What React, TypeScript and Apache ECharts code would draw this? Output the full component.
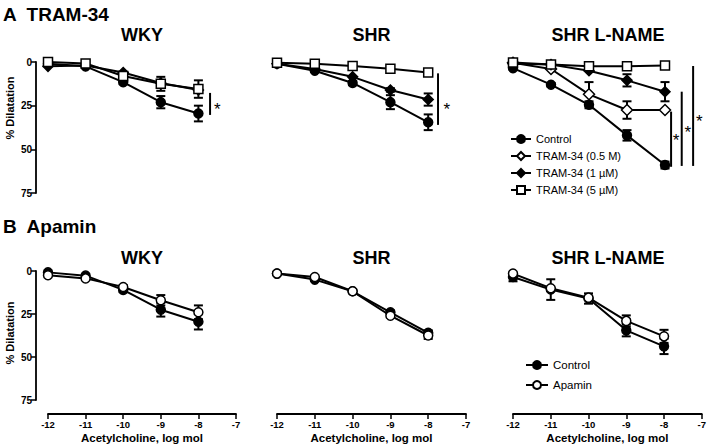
import React, { useEffect, useRef } from "react";
import * as echarts from "echarts";

const FONT = "'Liberation Sans', Arial, Helvetica, sans-serif";

// x values (log mol acetylcholine)
const doses = [-12, -11, -10, -9, -8];
const xTicks = [-12, -11, -10, -9, -8, -7];
const yTicks = [0, 25, 50, 75];

// ---- Panel A: TRAM-34 ----
// WKY
const aWkyControl = [1, 2.5, 11.5, 23, 29.5];
const aWkyControlErr = [0, 0, 1, 3.5, 4.5];
const aWkyTram1 = [2.5, 2, 6, 12, 16];
const aWkyTram1Err = [0, 0, 0, 0, 0];
const aWkyTram5 = [0, 0.8, 8, 12.5, 15.5];
const aWkyTram5Err = [0, 0, 1, 4, 5];
// SHR
const aShrControl = [1, 5, 12, 23, 34.5];
const aShrControlErr = [0, 0, 1, 4, 4.5];
const aShrTram1 = [1, 4, 8.5, 16, 21.5];
const aShrTram1Err = [0, 0, 0, 1, 3.5];
const aShrTram5 = [0.4, 1, 2.3, 3.8, 6];
const aShrTram5Err = [0, 0, 0, 0, 0.5];
// SHR L-NAME
const aLnControl = [3.5, 13, 24.5, 42, 59];
const aLnControlErr = [1, 1, 2, 3, 2];
const aLnTram05 = [0.5, 4, 18.5, 27.5, 27.5];
const aLnTram05Err = [0, 0, 7, 5, 0];
const aLnTram1 = [1, 1.5, 5, 10.5, 17];
const aLnTram1Err = [0, 0, 0, 3.5, 5.5];
const aLnTram5 = [0.3, 1.5, 2.5, 2.5, 2];
const aLnTram5Err = [0, 0, 0, 0, 0];

// ---- Panel B: Apamin ----
const bWkyControl = [0.8, 2.7, 11, 22.5, 29.5];
const bWkyControlErr = [0, 0, 1, 4, 4.5];
const bWkyApamin = [2.5, 4.3, 9.3, 17, 24];
const bWkyApaminErr = [0, 0, 1, 3, 4];
const bShrControl = [1.5, 5, 11.8, 24, 36];
const bShrControlErr = [0, 0, 0, 1, 1.5];
const bShrApamin = [1.5, 3.5, 11.8, 26, 37.5];
const bShrApaminErr = [0, 0, 0, 1, 2];
const bLnControl = [3.5, 10.8, 16, 34.5, 43.8];
const bLnControlErr = [2.5, 6, 3, 3.5, 4.5];
const bLnApamin = [1.5, 10, 15.5, 29, 38];
const bLnApaminErr = [0, 0, 0, 3.2, 3.8];

// significance bars: [x, yFrom, yTo] per grid, and asterisks [x, y]
const sigBarsWky = [[-7.69, 17.7, 30.3]];
const sigStarsWky = [[-7.5, 25]];
const sigBarsShr = [[-7.74, 6.5, 36]];
const sigStarsShr = [[-7.51, 25]];
const sigBarsLn = [
  [-7.84, 28.4, 60],
  [-7.56, 17, 59.5],
  [-7.26, 2.3, 59.5],
];
const sigStarsLn = [
  [-7.71, 42.8],
  [-7.4, 37.8],
  [-7.1, 32],
];

const legendA = ["Control", "TRAM-34 (0.5 M)", "TRAM-34 (1 µM)", "TRAM-34 (5 µM)"];
const legendB = ["Control", "Apamin"];

const panelTitles = ["WKY", "SHR", "SHR L-NAME"];

type Sty = { symbol: string; size: number; fill: string };
const STY: Record<string, Sty> = {
  "Control": { symbol: "circle", size: 9, fill: "#000" },
  "TRAM-34 (0.5 M)": { symbol: "diamond", size: 11, fill: "#fff" },
  "TRAM-34 (1 µM)": { symbol: "diamond", size: 10, fill: "#000" },
  "TRAM-34 (5 µM)": { symbol: "rect", size: 9, fill: "#fff" },
  "Apamin": { symbol: "circle", size: 9, fill: "#fff" },
};

function errRender(params: any, api: any) {
  const x = api.value(0);
  const y = api.value(1);
  const e = api.value(2);
  const a = api.coord([x, y - e]);
  const b = api.coord([x, y + e]);
  const w = 4.5;
  const st = { stroke: "#000", lineWidth: 2 };
  return {
    type: "group",
    children: [
      { type: "line", shape: { x1: a[0], y1: a[1], x2: b[0], y2: b[1] }, style: st },
      { type: "line", shape: { x1: a[0] - w, y1: a[1], x2: a[0] + w, y2: a[1] }, style: st },
      { type: "line", shape: { x1: b[0] - w, y1: b[1], x2: b[0] + w, y2: b[1] }, style: st },
    ],
  };
}

function makeSeries(name: string, vals: number[], errs: number[], g: number) {
  const s = STY[name];
  const line = {
    type: "line",
    name,
    xAxisIndex: g,
    yAxisIndex: g,
    data: doses.map((d, i) => [d, vals[i]]),
    symbol: s.symbol,
    symbolSize: s.size,
    showSymbol: true,
    z: 4,
    lineStyle: { color: "#000", width: 2 },
    itemStyle: { color: s.fill, borderColor: "#000", borderWidth: 1.5 },
    emphasis: { disabled: true },
  };
  const errData = doses
    .map((d, i) => [d, vals[i], errs[i]])
    .filter((r) => r[2] > 0);
  const err = {
    type: "custom",
    xAxisIndex: g,
    yAxisIndex: g,
    z: 3,
    silent: true,
    data: errData,
    encode: { x: 0, y: 1 },
    renderItem: errRender,
  };
  return [err, line];
}

function sigSeries(bars: number[][], stars: number[][], g: number) {
  return [
    {
      type: "custom",
      xAxisIndex: g,
      yAxisIndex: g,
      silent: true,
      z: 3,
      data: bars,
      encode: { x: 0, y: 1 },
      renderItem: (params: any, api: any) => {
        const a = api.coord([api.value(0), api.value(1)]);
        const b = api.coord([api.value(0), api.value(2)]);
        return {
          type: "line",
          shape: { x1: a[0], y1: a[1], x2: b[0], y2: b[1] },
          style: { stroke: "#000", lineWidth: 2 },
        };
      },
    },
    {
      type: "custom",
      xAxisIndex: g,
      yAxisIndex: g,
      silent: true,
      z: 3,
      data: stars,
      encode: { x: 0, y: 1 },
      renderItem: (params: any, api: any) => {
        const p = api.coord([api.value(0), api.value(1)]);
        return {
          type: "text",
          x: p[0],
          y: p[1] + 4,
          style: {
            text: "*",
            fontSize: 17,
            fontFamily: FONT,
            fill: "#000",
            align: "center",
            verticalAlign: "middle",
          },
        };
      },
    },
  ];
}

const gridLefts = [48, 277, 513];
const gridWidths = [188, 189, 190];

export default function App() {
  const ref = useRef<HTMLDivElement>(null);
  useEffect(() => {
    if (!ref.current) return;
    const chart = echarts.init(ref.current, undefined, { renderer: "svg" });

    const grids: any[] = [];
    const xAxes: any[] = [];
    const yAxes: any[] = [];
    for (let row = 0; row < 2; row++) {
      for (let c = 0; c < 3; c++) {
        const g = row * 3 + c;
        grids.push({
          left: gridLefts[c],
          width: gridWidths[c],
          top: row === 0 ? 62 : 271,
          height: row === 0 ? 131 : 129,
        });
        xAxes.push({
          type: "value",
          gridIndex: g,
          min: xTicks[0],
          max: xTicks[xTicks.length - 1],
          interval: 1,
          show: row === 1,
          offset: 14,
          position: "bottom",
          name: row === 1 ? "Acetylcholine, log mol" : "",
          nameLocation: "middle",
          nameGap: 18,
          nameTextStyle: { fontSize: 11.5, fontWeight: "bold", fontFamily: FONT, color: "#000" },
          axisLine: { show: true, onZero: false, lineStyle: { color: "#000", width: 1.8 } },
          axisTick: { show: true, length: 5, lineStyle: { color: "#000", width: 1.5 } },
          axisLabel: {
            fontSize: 9.5,
            fontWeight: "bold",
            fontFamily: FONT,
            color: "#000",
            margin: 5,
          },
          splitLine: { show: false },
        });
        yAxes.push({
          type: "value",
          gridIndex: g,
          min: yTicks[0],
          max: yTicks[yTicks.length - 1],
          interval: 25,
          inverse: true,
          show: c === 0,
          offset: 12,
          position: "left",
          axisLine: { show: true, onZero: false, lineStyle: { color: "#000", width: 1.8 } },
          axisTick: { show: true, length: 5, lineStyle: { color: "#000", width: 1.5 } },
          axisLabel: {
            fontSize: 10,
            fontWeight: "bold",
            fontFamily: FONT,
            color: "#000",
            margin: 4,
          },
          splitLine: { show: false },
        });
      }
    }

    const series: any[] = [
      ...makeSeries("Control", aWkyControl, aWkyControlErr, 0),
      ...makeSeries("TRAM-34 (1 µM)", aWkyTram1, aWkyTram1Err, 0),
      ...makeSeries("TRAM-34 (5 µM)", aWkyTram5, aWkyTram5Err, 0),
      ...sigSeries(sigBarsWky, sigStarsWky, 0),

      ...makeSeries("Control", aShrControl, aShrControlErr, 1),
      ...makeSeries("TRAM-34 (1 µM)", aShrTram1, aShrTram1Err, 1),
      ...makeSeries("TRAM-34 (5 µM)", aShrTram5, aShrTram5Err, 1),
      ...sigSeries(sigBarsShr, sigStarsShr, 1),

      ...makeSeries("Control", aLnControl, aLnControlErr, 2),
      ...makeSeries("TRAM-34 (0.5 M)", aLnTram05, aLnTram05Err, 2),
      ...makeSeries("TRAM-34 (1 µM)", aLnTram1, aLnTram1Err, 2),
      ...makeSeries("TRAM-34 (5 µM)", aLnTram5, aLnTram5Err, 2),
      ...sigSeries(sigBarsLn, sigStarsLn, 2),

      ...makeSeries("Control", bWkyControl, bWkyControlErr, 3),
      ...makeSeries("Apamin", bWkyApamin, bWkyApaminErr, 3),
      ...makeSeries("Control", bShrControl, bShrControlErr, 4),
      ...makeSeries("Apamin", bShrApamin, bShrApaminErr, 4),
      ...makeSeries("Control", bLnControl, bLnControlErr, 5),
      ...makeSeries("Apamin", bLnApamin, bLnApaminErr, 5),
    ];

    const titleText = (text: string, x: number, y: number, size: number, align = "center") => ({
      type: "text",
      x,
      y,
      style: {
        text,
        fontSize: size,
        fontWeight: "bold",
        fontFamily: FONT,
        fill: "#000",
        align,
        verticalAlign: "middle",
      },
    });

    const graphics: any[] = [
      titleText("A  TRAM-34", 3, 14, 19, "left"),
      titleText("B  Apamin", 3, 226, 19, "left"),
    ];
    panelTitles.forEach((t, c) => {
      const cx = gridLefts[c] + gridWidths[c] / 2;
      graphics.push(titleText(t, cx, 35, 18));
      graphics.push(titleText(t, cx, 258, 18));
    });
    [108, 333].forEach((y) => {
      graphics.push({
        type: "text",
        x: 10,
        y,
        rotation: Math.PI / 2,
        style: {
          text: "% Dilatation",
          fontSize: 11,
          fontWeight: "bold",
          fontFamily: FONT,
          fill: "#000",
          align: "center",
          verticalAlign: "middle",
        },
      });
    });

    chart.setOption({
      animation: false,
      backgroundColor: "#fff",
      grid: grids,
      xAxis: xAxes,
      yAxis: yAxes,
      legend: [
        {
          data: legendA,
          left: 505,
          top: 128,
          orient: "vertical",
          itemWidth: 20,
          itemHeight: 10,
          itemGap: 5,
          selectedMode: false,
          textStyle: { fontSize: 11, fontFamily: FONT, color: "#000", lineHeight: 12 },
        },
        {
          data: legendB,
          left: 520,
          top: 354,
          orient: "vertical",
          itemWidth: 22,
          itemHeight: 10,
          itemGap: 8,
          selectedMode: false,
          textStyle: { fontSize: 11.5, fontFamily: FONT, color: "#000", lineHeight: 12 },
        },
      ],
      graphic: graphics,
      series,
    });

    return () => chart.dispose();
  }, []);

  return (
    <div
      ref={ref}
      style={{ position: "absolute", left: 0, top: 0, width: 709, height: 448 }}
    />
  );
}
